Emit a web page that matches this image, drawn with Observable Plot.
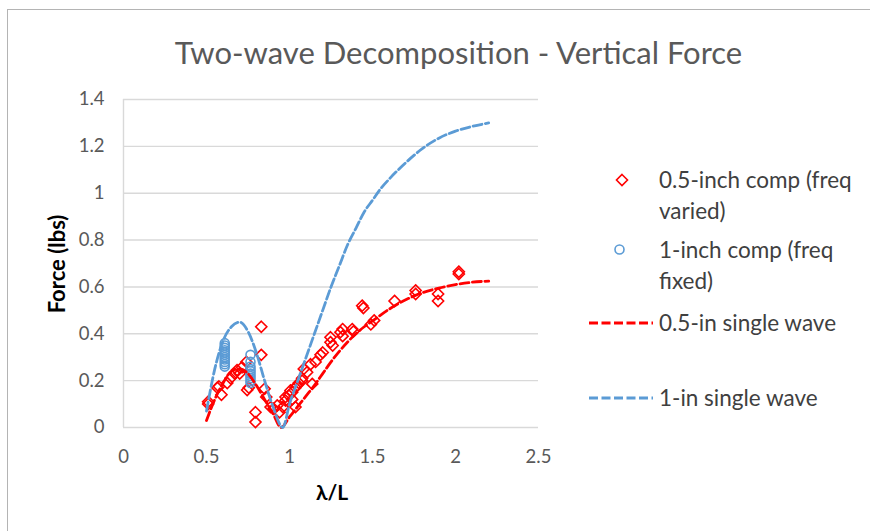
<!DOCTYPE html>
<html>
<head>
<meta charset="utf-8">
<script src="https://cdn.jsdelivr.net/npm/d3@7"></script>
<script src="https://cdn.jsdelivr.net/npm/@observablehq/plot@0.6"></script>
<style>
  html, body { margin: 0; padding: 0; background: #fff; overflow: hidden; }
  #wrap { position: relative; width: 870px; height: 531px; font-family: Lato, "Open Sans", sans-serif; }
  #frame { position: absolute; left: 7px; top: 9px; width: 900px; height: 600px;
           border-left: 1.5px solid #b4b4b4; border-top: 1.5px solid #b4b4b4; pointer-events: none; }
  #title { position: absolute; left: 0; width: 917px; top: 33px; text-align: center;
           font-size: 31px; color: #595959; white-space: nowrap; line-height: 38px; }
  #ylab { position: absolute; left: 56px; top: 264px; transform: translate(-50%, -50%) rotate(-90deg);
          font-size: 22px; font-weight: bold; color: #000; white-space: nowrap; }
  #xlab { position: absolute; left: 332px; top: 491px; transform: translate(-50%, -50%);
          font-size: 21px; font-weight: bold; color: #000; white-space: nowrap; }
  .leg { position: absolute; left: 659px; font-size: 22.5px; color: #404040; white-space: nowrap; line-height: 31px; }
  .sym { position: absolute; }
  #chart { position: absolute; left: 0; top: 0; }
</style>
</head>
<body>
<div id="wrap">
  <div id="chart"></div>
  <div id="frame"></div>
  <div id="title">Two-wave Decomposition - Vertical Force</div>
  <div id="ylab">Force (lbs)</div>
  <div id="xlab">λ/L</div>
  <svg class="sym" style="left:612px;top:170px" width="20" height="20"><path d="M10,4.5 L15.5,10 L10,15.5 L4.5,10 Z" fill="none" stroke="#ff0000" stroke-width="1.6"/></svg>
  <div class="leg" style="top:164px">0.5-inch comp (freq<br>varied)</div>
  <svg class="sym" style="left:610px;top:240px" width="20" height="20"><circle cx="9.5" cy="9.5" r="4.5" fill="none" stroke="#5b9bd5" stroke-width="1.6"/></svg>
  <div class="leg" style="top:234px">1-inch comp (freq<br>fixed)</div>
  <svg class="sym" style="left:589px;top:318px" width="66" height="10"><line x1="0" y1="5" x2="64" y2="5" stroke="#ff0000" stroke-width="2.8" stroke-dasharray="9,3.5"/></svg>
  <div class="leg" style="top:307px">0.5-in single wave</div>
  <svg class="sym" style="left:589px;top:393px" width="66" height="10"><line x1="0" y1="5" x2="64" y2="5" stroke="#5b9bd5" stroke-width="2.8" stroke-dasharray="9,3.5"/></svg>
  <div class="leg" style="top:382px">1-in single wave</div>
</div>
<script>
// Axis ticks
const xTicks = [0, 0.5, 1, 1.5, 2, 2.5];
const yTicks = [0, 0.2, 0.4, 0.6, 0.8, 1, 1.2, 1.4];

// 0.5-inch comp (freq varied) — measured points
const halfX = [0.51, 0.51, 0.565, 0.575, 0.59, 0.625, 0.645, 0.67, 0.684, 0.70, 0.714, 0.74, 0.755, 0.745,
  0.795, 0.795, 0.83, 0.83, 0.85, 0.86, 0.886, 0.905, 0.926, 0.94, 0.96, 0.976, 0.976, 0.996, 1.006, 1.016, 1.016,
  1.036, 1.036, 1.046, 1.056, 1.076, 1.076, 1.086, 1.106, 1.127, 1.137, 1.157, 1.187, 1.2, 1.247, 1.247, 1.26,
  1.307, 1.32, 1.32, 1.378, 1.385, 1.438, 1.445, 1.49, 1.51, 1.633, 1.76, 1.76, 1.895, 1.895, 2.02, 2.02];
const halfY = [0.10, 0.11, 0.17, 0.175, 0.14, 0.19, 0.21, 0.23, 0.245, 0.23, 0.257, 0.28, 0.17, 0.16,
  0.065, 0.023, 0.43, 0.31, 0.165, 0.13, 0.087, 0.08, 0.094, 0.065, 0.087, 0.115, 0.13, 0.137, 0.158, 0.15, 0.12,
  0.17, 0.087, 0.18, 0.19, 0.21, 0.2, 0.25, 0.236, 0.27, 0.186, 0.28, 0.31, 0.32, 0.364, 0.385, 0.35,
  0.407, 0.39, 0.42, 0.42, 0.41, 0.52, 0.51, 0.44, 0.457, 0.54, 0.585, 0.57, 0.57, 0.54, 0.665, 0.655];

// 1-inch comp (freq fixed)
const oneX = [0.61, 0.61, 0.61, 0.61, 0.61, 0.61, 0.61, 0.61, 0.61, 0.61, 0.61,
  0.765, 0.765, 0.765, 0.765, 0.765, 0.765, 0.765, 0.765, 0.765, 0.765];
const oneY = [0.36, 0.35, 0.34, 0.33, 0.32, 0.31, 0.30, 0.29, 0.28, 0.27, 0.26,
  0.31, 0.28, 0.26, 0.25, 0.24, 0.23, 0.22, 0.21, 0.20, 0.19];

// 0.5-in single wave (curve)
const halfWaveX = [0.50, 0.55, 0.60, 0.65, 0.70, 0.75, 0.80, 0.85, 0.90, 0.95, 1.00, 1.05, 1.10, 1.15, 1.20,
  1.25, 1.30, 1.35, 1.40, 1.45, 1.50, 1.60, 1.70, 1.80, 1.90, 2.00, 2.10, 2.20];
const halfWaveY = [0.03, 0.12, 0.19, 0.24, 0.25, 0.23, 0.18, 0.12, 0.06, 0.00, 0.045, 0.09, 0.135, 0.18, 0.23,
  0.28, 0.325, 0.365, 0.40, 0.43, 0.455, 0.505, 0.545, 0.575, 0.595, 0.61, 0.62, 0.625];

// 1-in single wave
const oneWaveX = [0.50, 0.55, 0.60, 0.65, 0.70, 0.75, 0.80, 0.85, 0.90, 0.96, 1.00, 1.05, 1.10, 1.15, 1.20,
  1.25, 1.30, 1.35, 1.40, 1.45, 1.50, 1.55, 1.60, 1.70, 1.80, 1.90, 2.00, 2.10, 2.20];
const oneWaveY = [0.07, 0.25, 0.37, 0.43, 0.45, 0.41, 0.32, 0.20, 0.09, 0.00, 0.10, 0.20, 0.30, 0.40, 0.50,
  0.60, 0.69, 0.78, 0.85, 0.92, 0.97, 1.02, 1.06, 1.13, 1.19, 1.235, 1.265, 1.285, 1.30];

const zip = (xs, ys) => xs.map((x, i) => ({x, y: ys[i]}));
const halfPts = zip(halfX, halfY);
const onePts = zip(oneX, oneY);
const halfWave = zip(halfWaveX, halfWaveY);
const oneWave = zip(oneWaveX, oneWaveY);

const chart = Plot.plot({
  width: 870,
  height: 531,
  marginLeft: 123,
  marginRight: 332,
  marginTop: 99,
  marginBottom: 104,
  style: {fontFamily: "Lato, 'Open Sans', sans-serif", fontSize: "18.5px", color: "#595959", background: "transparent"},
  x: {domain: [0, 2.5]},
  y: {domain: [0, 1.4]},
  marks: [
    Plot.ruleY(yTicks, {stroke: "#d9d9d9", strokeWidth: 1.4, strokeOpacity: 1}),
    Plot.ruleX([0], {y1: 0, y2: 1.4, stroke: "#d9d9d9", strokeWidth: 1.4}),
    Plot.axisY({ticks: yTicks, tickSize: 0, tickPadding: 19, tickFormat: d => String(d), label: null}),
    Plot.axisX({ticks: xTicks, tickSize: 0, tickPadding: 22, tickFormat: d => String(d), label: null}),
    Plot.dot(halfPts, {x: "x", y: "y", symbol: "diamond2", r: 5, stroke: "#ff0000", fill: "none", strokeWidth: 1.6}),
    Plot.dot(onePts, {x: "x", y: "y", symbol: "circle", r: 4.5, stroke: "#5b9bd5", fill: "none", strokeWidth: 1.6}),
    Plot.line(halfWave, {x: "x", y: "y", curve: "monotone-x", stroke: "#ff0000", strokeWidth: 2.8, strokeDasharray: "9,3.5"}),
    Plot.line(oneWave, {x: "x", y: "y", curve: "monotone-x", stroke: "#5b9bd5", strokeWidth: 2.8, strokeDasharray: "9,3.5"})
  ]
});
document.getElementById("chart").appendChild(chart);
</script>
</body>
</html>
